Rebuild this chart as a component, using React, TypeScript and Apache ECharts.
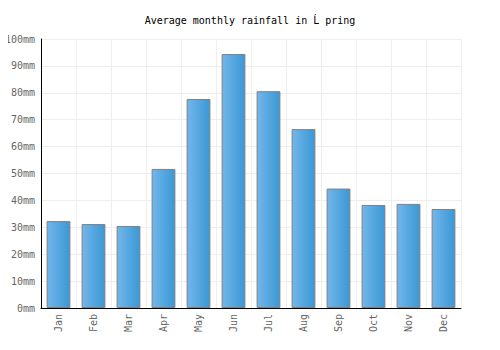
import React, { useEffect, useRef } from "react";
import * as echarts from "echarts";

const months = ["Jan", "Feb", "Mar", "Apr", "May", "Jun", "Jul", "Aug", "Sep", "Oct", "Nov", "Dec"];
const rainfall = [32.3, 31.2, 30.5, 51.7, 77.7, 94.4, 80.6, 66.5, 44.4, 38.3, 38.7, 36.8];
const titleText = "Average monthly rainfall in Ĺ pring";

export default function App() {
  const ref = useRef<HTMLDivElement>(null);
  useEffect(() => {
    if (!ref.current) return;
    const chart = echarts.init(ref.current, null, { renderer: "svg" });
    const font = "'DejaVu Sans Mono', monospace";
    chart.setOption({
      animation: false,
      title: {
        text: titleText,
        left: "center",
        top: 10,
        textStyle: { fontFamily: font, fontSize: 10, fontWeight: "normal", color: "#000" },
      },
      grid: { left: 41, right: 39, top: 39, bottom: 42, containLabel: false },
      xAxis: {
        type: "category",
        data: months,
        axisLine: { lineStyle: { color: "#000", width: 1 } },
        axisTick: { show: false },
        axisLabel: { rotate: 90, color: "#666", fontFamily: font, fontSize: 10, margin: 6 },
        splitLine: { show: true, lineStyle: { color: "#eeeeee", width: 1 } },
      },
      yAxis: {
        type: "value",
        min: 0,
        max: 100,
        interval: 10,
        axisLine: { show: true, lineStyle: { color: "#000", width: 1 } },
        axisTick: { show: false },
        axisLabel: { color: "#666", fontFamily: font, fontSize: 10, margin: 6, formatter: "{value}mm" },
        splitLine: { lineStyle: { color: "#eeeeee", width: 1 } },
      },
      series: [
        {
          type: "bar",
          data: rainfall,
          barWidth: "68%",
          itemStyle: {
            color: new echarts.graphic.LinearGradient(0, 0, 1, 0, [
              { offset: 0, color: "#72b6ea" },
              { offset: 1, color: "#3a98d4" },
            ]),
            borderColor: "#808080",
            borderWidth: 1,
          },
        },
      ],
    });
    return () => chart.dispose();
  }, []);
  return <div ref={ref} style={{ width: 500, height: 350, marginLeft: -8, marginTop: -8 }} />;
}
